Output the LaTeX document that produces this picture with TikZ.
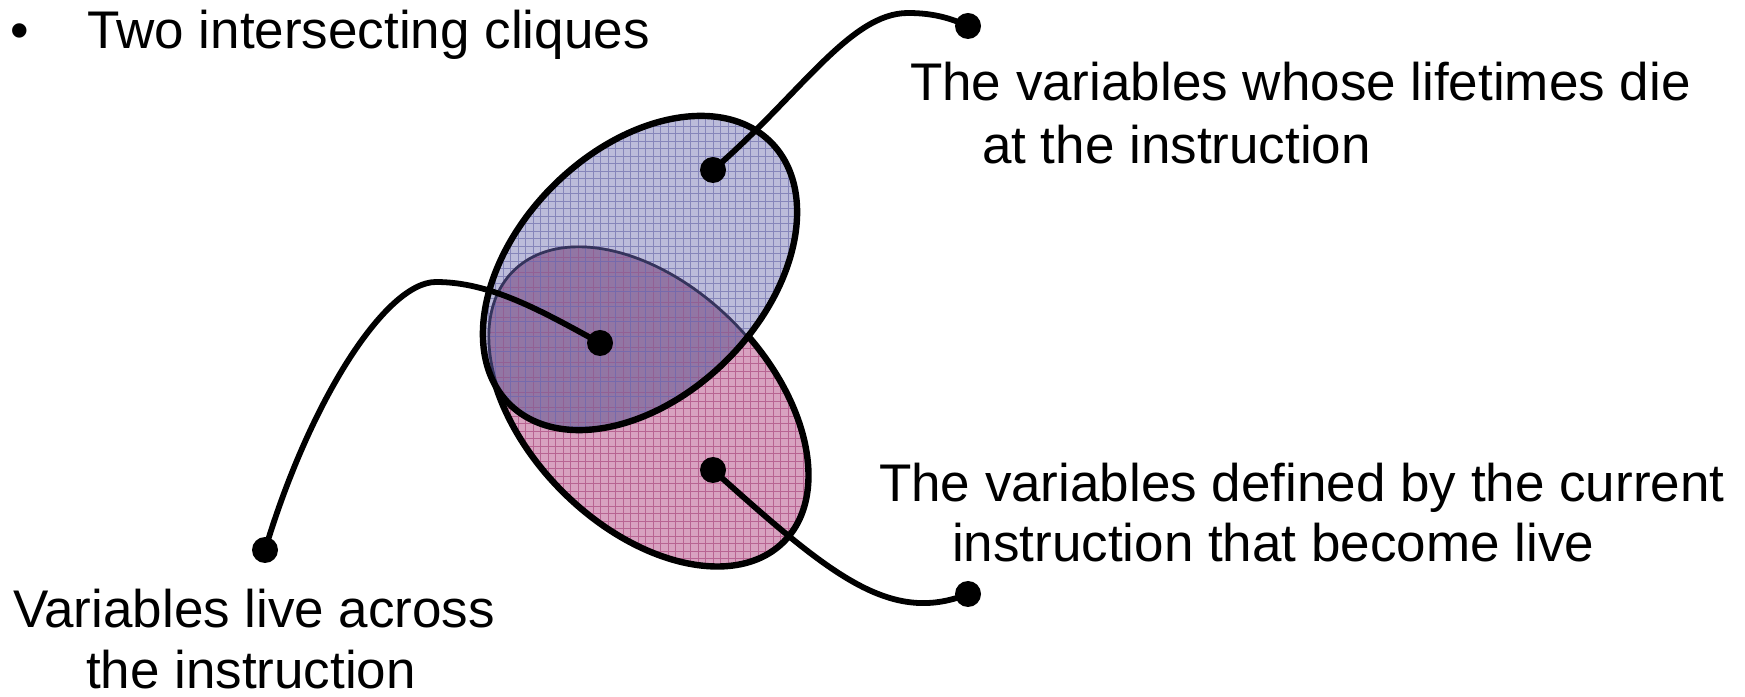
\documentclass[tikz,border=0pt]{standalone}
\usepackage{fontspec}
\setmainfont{Liberation Sans}
\definecolor{bluefill}{RGB}{188,188,218}
\definecolor{bluegrid}{RGB}{134,134,186}
\definecolor{pinkfill}{RGB}{216,162,192}
\definecolor{pinkgrid}{RGB}{184,100,146}
\definecolor{overfill}{RGB}{146,118,164}
\definecolor{overblue}{RGB}{118,106,172}
\definecolor{overpink}{RGB}{146,96,148}
\definecolor{innerarc}{RGB}{52,52,92}
\begin{document}
\begin{tikzpicture}[x=1pt,y=1pt,
  dot/.style={circle,fill=black,inner sep=0pt,minimum size=26pt},
  link/.style={line width=5.8pt,black},
  rim/.style={line width=6.4pt,black},
  gridline/.style={line width=0.8pt},
  lbl/.style={anchor=base west,inner sep=0pt,outer sep=0pt,font=\fontsize{53}{61}\selectfont}]
\useasboundingbox (0,0) rectangle (1745,696);
% pink clique
\fill[pinkfill] (648,290) ellipse [x radius=192,y radius=121,rotate=-45];
\begin{scope}
  \clip (648,290) ellipse [x radius=192,y radius=121,rotate=-45];
  \draw[gridline,pinkgrid] foreach \x in {443,450.5,...,830} {(\x,100) -- (\x,480)}
    foreach \y in {100,107.5,...,480} {(440,\y) -- (830,\y)};
\end{scope}
\draw[rim] (648,290) ellipse [x radius=192,y radius=121,rotate=-45];
% blue clique
\fill[bluefill] (640,423) ellipse [x radius=185,y radius=123,rotate=45];
\begin{scope}
  \clip (640,423) ellipse [x radius=185,y radius=123,rotate=45];
  \draw[gridline,bluegrid] foreach \x in {443,450.5,...,830} {(\x,240) -- (\x,600)}
    foreach \y in {240,247.5,...,600} {(440,\y) -- (830,\y)};
\end{scope}
% overlap
\begin{scope}
  \clip (648,290) ellipse [x radius=192,y radius=121,rotate=-45];
  \fill[overfill] (640,423) ellipse [x radius=185,y radius=123,rotate=45];
  \clip (640,423) ellipse [x radius=185,y radius=123,rotate=45];
  \draw[gridline,overpink] foreach \x in {443,458,...,830} {(\x,240) -- (\x,480)}
    foreach \y in {243.75,258.75,...,480} {(440,\y) -- (830,\y)};
  \draw[gridline,overblue] foreach \x in {450.5,465.5,...,830} {(\x,240) -- (\x,480)}
    foreach \y in {240,255,...,480} {(440,\y) -- (830,\y)};
  \draw[line width=5.4pt,innerarc] (648,290) ellipse [x radius=192,y radius=121,rotate=-45];
\end{scope}
\draw[rim] (640,423) ellipse [x radius=185,y radius=123,rotate=45];
% dots
\node[dot] (dA) at (713,526) {};
\node[dot] (dB) at (968,670) {};
\node[dot] (dC) at (600,353) {};
\node[dot] (dD) at (265,146) {};
\node[dot] (dE) at (713,226) {};
\node[dot] (dF) at (968,102) {};
% connectors
\draw[link] (dA.center) .. controls (800,601) and (850,683) .. (908,683)
  .. controls (935,683) and (952,677) .. (dB.center);
\draw[link] (dC.center) .. controls (540,386) and (490,414) .. (436,414)
  .. controls (386,414) and (310,296) .. (dD.center);
\draw[link] (dE.center) .. controls (830,121) and (890,71) .. (dF.center);
% texts
\node[lbl] (bul) at (10,647) {•};
\node[lbl] (title) at (87,647) {Two intersecting cliques};
\node[lbl] (t1a) at (910,595) {The variables whose lifetimes die};
\node[lbl] (t1b) at (982,532) {at the instruction};
\node[lbl] (t2a) at (879,194) {The variables defined by the current};
\node[lbl] (t2b) at (952,134) {instruction that become live};
\node[lbl] (t3a) at (13,68) {Variables live across};
\node[lbl] (t3b) at (86,8) {the instruction};
\end{tikzpicture}
\end{document}
